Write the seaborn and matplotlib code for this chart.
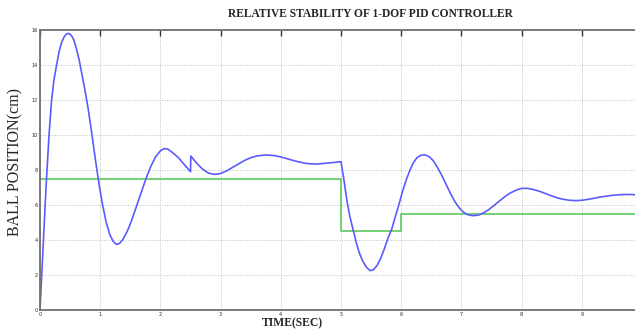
import numpy as np
import pandas as pd
import matplotlib
matplotlib.use("Agg")
import matplotlib.pyplot as plt
import seaborn as sns

# Ball position (blue)
t_pos = [0.0, 0.02, 0.04, 0.06, 0.08, 0.10, 0.12, 0.15, 0.19, 0.23, 0.28, 0.32, 0.36,
         0.40, 0.44, 0.48, 0.52, 0.56, 0.60, 0.65, 0.70, 0.75, 0.80, 0.86, 0.92, 0.98,
         1.04, 1.10, 1.16, 1.22, 1.27, 1.32, 1.38, 1.45, 1.52, 1.60, 1.68, 1.76,
         1.84, 1.92, 2.00, 2.06, 2.12, 2.20, 2.30, 2.40, 2.50, 2.505, 2.60, 2.70, 2.80,
         2.90, 3.00, 3.10, 3.20, 3.30, 3.40, 3.50, 3.60, 3.75, 3.90, 4.00, 4.10, 4.20,
         4.30, 4.40, 4.50, 4.60, 4.70, 4.85, 5.00, 5.05, 5.10, 5.15, 5.20, 5.25, 5.30,
         5.36, 5.42, 5.48, 5.54, 5.60, 5.66, 5.72, 5.78, 5.84, 5.90, 5.96, 6.02, 6.08,
         6.14, 6.20, 6.26, 6.33, 6.40, 6.47, 6.54, 6.61, 6.68, 6.75, 6.82, 6.89, 6.96,
         7.03, 7.10, 7.19, 7.28, 7.37, 7.46, 7.55, 7.64, 7.73, 7.82, 7.91, 8.00, 8.10,
         8.20, 8.30, 8.40, 8.50, 8.60, 8.70, 8.80, 8.90, 9.00, 9.10, 9.20, 9.30, 9.40,
         9.50, 9.60, 9.70, 9.80, 9.90, 10.0]
y_pos = [0.0, 1.4, 2.8, 4.2, 5.6, 7.0, 8.2, 10.0, 11.9, 13.1, 14.1, 14.8, 15.3,
         15.6, 15.78, 15.8, 15.7, 15.45, 15.0, 14.3, 13.4, 12.5, 11.5, 10.1, 8.6, 7.2,
         6.0, 5.0, 4.3, 3.9, 3.75, 3.8, 4.05, 4.5, 5.1, 5.9, 6.7, 7.5,
         8.2, 8.75, 9.1, 9.22, 9.2, 9.0, 8.7, 8.3, 7.9, 8.8, 8.4, 8.05, 7.82,
         7.75, 7.8, 7.95, 8.15, 8.35, 8.55, 8.7, 8.8, 8.86, 8.82, 8.75, 8.65, 8.55,
         8.46, 8.39, 8.35, 8.34, 8.37, 8.42, 8.48, 7.4, 6.2, 5.3, 4.6, 3.9, 3.3,
         2.8, 2.45, 2.25, 2.3, 2.55, 2.95, 3.5, 4.1, 4.6, 5.3, 6.0, 6.75, 7.4,
         7.95, 8.4, 8.7, 8.85, 8.86, 8.75, 8.5, 8.1, 7.65, 7.15, 6.65, 6.2, 5.85,
         5.6, 5.45, 5.39, 5.42, 5.55, 5.75, 6.0, 6.25, 6.5, 6.7, 6.85, 6.95, 6.95,
         6.88, 6.78, 6.65, 6.52, 6.4, 6.32, 6.27, 6.25, 6.27, 6.32, 6.38, 6.45, 6.5,
         6.55, 6.58, 6.6, 6.6, 6.58, 6.56]

# Setpoint (green) step levels
t_set = [0.0, 5.0, 5.0, 6.0, 6.0, 10.0]
y_set = [7.5, 7.5, 4.5, 4.5, 5.5, 5.5]

x_ticks = [0, 1, 2, 3, 4, 5, 6, 7, 8, 9]
y_ticks = [0, 2, 4, 6, 8, 10, 12, 14, 16]

title = "RELATIVE STABILITY OF 1-DOF PID CONTROLLER"
xlabel = "TIME(SEC)"
ylabel = "BALL POSITION(cm)"

sns.set_style("white")
plt.rcParams["font.family"] = ["DejaVu Sans"]

fig = plt.figure(figsize=(6.35, 3.31), dpi=100)
ax = fig.add_axes([40/635, 21/331, 602/635, 280/331])

df_pos = pd.DataFrame({"t": t_pos, "y": y_pos})
df_set = pd.DataFrame({"t": t_set, "y": y_set})
sns.lineplot(data=df_set, x="t", y="y", ax=ax, color="#5cc85c", lw=1.2,
             sort=False, estimator=None)
sns.lineplot(data=df_pos, x="t", y="y", ax=ax, color="#5b5bff", lw=1.2,
             sort=False, estimator=None)

ax.set_xlim(0, 10)
ax.set_ylim(0, 16)
ax.set_xticks(x_ticks)
ax.set_yticks(y_ticks)
ax.set_xticklabels([str(v) for v in x_ticks], fontsize=3.5)
ax.set_yticklabels([str(v) for v in y_ticks], fontsize=3.5)
ax.tick_params(direction="in", length=4, width=1, color="#333333", pad=1.5,
               top=True, right=True)
ax.grid(True, linestyle=(0, (1, 1.5)), color="#c0c0c0", lw=0.7)
for s in ax.spines.values():
    s.set_color("#707070")
    s.set_linewidth(1.3)
ax.set_xlabel("")
ax.set_ylabel("")

fig.text(370/635, 1 - 14/331, title, ha="center", va="center",
         family="Liberation Serif", weight="bold", fontsize=8.3)
fig.text(292/635, 1 - 323/331, xlabel, ha="center", va="center",
         family="Liberation Serif", weight="bold", fontsize=8.4)
fig.text(15/635, 1 - 162/331, ylabel, ha="center", va="center", rotation=90,
         family="Liberation Serif", fontsize=11.5)

fig.savefig("out.png", dpi=100)
